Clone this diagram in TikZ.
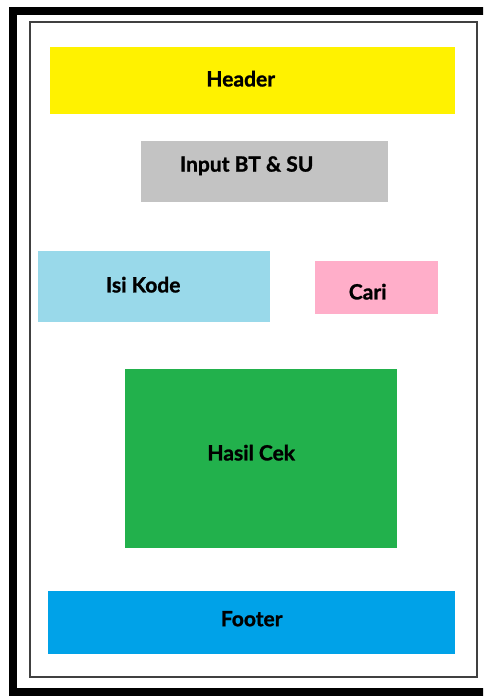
\documentclass[tikz,border=0pt]{standalone}
\usepackage{fontspec}
\setmainfont{Lato}[BoldFeatures={FakeBold=1.2}]
\usepackage{tikz}

\definecolor{hdryellow}{HTML}{FFF200}
\definecolor{inpgray}{HTML}{C3C3C3}
\definecolor{kodeblue}{HTML}{99D9EA}
\definecolor{caripink}{HTML}{FFAEC9}
\definecolor{hasilgreen}{HTML}{22B14C}
\definecolor{ftrblue}{HTML}{00A2E8}

\begin{document}
\begin{tikzpicture}[x=1pt,y=-1pt,
    block/.style={draw=none,inner sep=0pt,anchor=north west},
    lbl/.style={font=\fontsize{21}{21}\selectfont\bfseries,text=black,inner sep=0pt}]
  \useasboundingbox (0,0) rectangle (483,696);
  \clip (0,0) rectangle (483,696);
  % Frames
  \draw[line width=8pt,black] (13,11) rectangle (490,692);
  \draw[line width=1.6pt,black!75] (30,22) rectangle (477,677);
  % Header
  \node[block,fill=hdryellow,minimum width=405pt,minimum height=67pt] (header) at (50,47) {};
  \node[lbl] (headertxt) at ([shift={(-12,-2)}]header.center) {Header};
  % Input
  \node[block,fill=inpgray,minimum width=247pt,minimum height=61pt] (input) at (141,141) {};
  \node[lbl] (inputtxt) at ([shift={(-18,-6)}]input.center) {Input BT \& SU};
  % Isi kode and search button
  \node[block,fill=kodeblue,minimum width=232pt,minimum height=71pt] (kode) at (38,251) {};
  \node[lbl] (kodetxt) at ([shift={(-11,-2)}]kode.center) {Isi Kode};
  \node[block,fill=caripink,minimum width=123pt,minimum height=53pt] (cari) at (315,261) {};
  \node[lbl] (caritxt) at ([shift={(-9,4)}]cari.center) {Cari};
  % Result
  \node[block,fill=hasilgreen,minimum width=272pt,minimum height=179pt] (hasil) at (125,369) {};
  \node[lbl] (hasiltxt) at ([shift={(-10,-6)}]hasil.center) {Hasil Cek};
  % Footer
  \node[block,fill=ftrblue,minimum width=407pt,minimum height=63pt] (footer) at (48,591) {};
  \node[lbl] (footertxt) at ([shift={(0,-4)}]footer.center) {Footer};
\end{tikzpicture}
\end{document}
